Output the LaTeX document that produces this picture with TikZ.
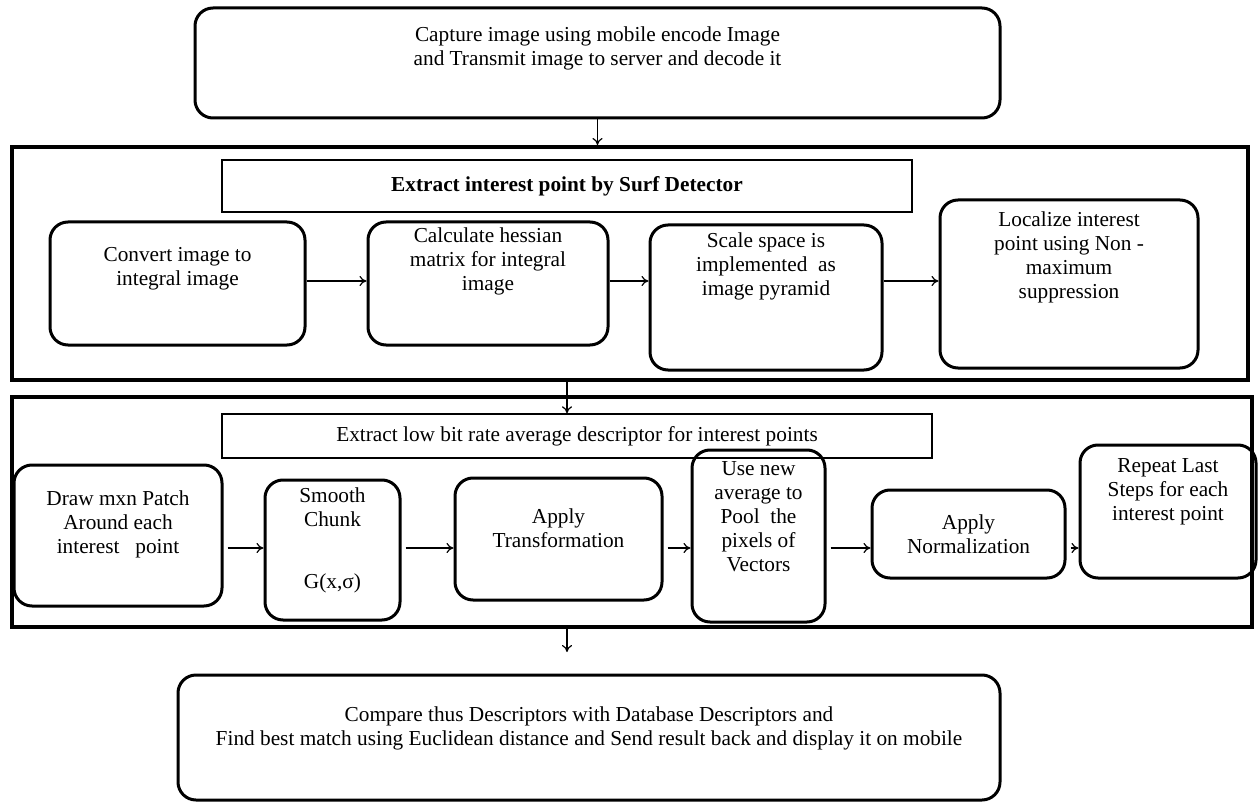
\documentclass[tikz,border=0pt]{standalone}
\usepackage{fontspec}
\setmainfont{Liberation Serif}
\usetikzlibrary{positioning, arrows.meta}
\tikzset{
    stepbox/.style={draw, rounded corners=18pt, line width=3pt, inner sep=0pt},
    headbox/.style={draw, line width=1.4pt, inner sep=0pt, font=\fontsize{21.3}{24}\selectfont},
    framebox/.style={draw, line width=4pt, inner sep=0pt},
    flow/.style={line width=1.2pt, -{To[length=7pt, width=10pt]}},
    every label/.style={align=center, inner sep=0pt, font=\fontsize{21.3}{24}\selectfont},
}
\begin{document}
\begin{tikzpicture}[x=1pt, y=-1pt]
\useasboundingbox (0,0) rectangle (1260,810);
% capture
\node[stepbox, minimum width=805, minimum height=110,
  label={[yshift=15]center:{Capture image using mobile encode Image\\and Transmit image to server and decode it}}] (cap) at (597.5,63) {};
% surf detector
\node[framebox, minimum width=1236, minimum height=233] (frame1) at (630,263.5) {};
\node[headbox, minimum width=690, minimum height=52] (head1) at (567,186) {\bfseries Extract interest point by Surf Detector};
\node[stepbox, minimum width=255, minimum height=123,
  label={[yshift=15]center:{Convert image to\\integral image}}] (conv) at (177.5,283.5) {};
\node[stepbox, minimum width=240, minimum height=123,
  label={[yshift=22]center:{Calculate hessian\\matrix for integral\\image}}] (hess) at (488,283.5) {};
\node[stepbox, minimum width=232, minimum height=145,
  label={[yshift=31]center:{Scale space is\\implemented\ \ as\\image pyramid}}] (pyram) at (766,297.5) {};
\node[stepbox, minimum width=258, minimum height=168,
  label={[yshift=27]center:{Localize interest\\point using Non -\\maximum\\suppression}}] (local) at (1069,284) {};
\coordinate (rowa) at (0,281);
\foreach \a/\b in {conv/hess, hess/pyram, pyram/local}
    \draw[flow] (\a.east |- rowa) -- (\b.west |- rowa);
% low bit rate descriptor
\node[framebox, minimum width=1240, minimum height=230] (frame2) at (632,512) {};
\node[headbox, minimum width=710, minimum height=44] (head2) at (577,436) {Extract low bit rate average descriptor for interest points};
\node[stepbox, minimum width=208, minimum height=141,
  label={[yshift=11]center:{Draw mxn Patch\\Around each\\interest\ \ \ point}}] (patch) at (118,535.5) {};
\node[stepbox, minimum width=135, minimum height=140,
  label={[yshift=10]center:{Smooth\\Chunk\\[38pt]G(x,σ)}}] (smooth) at (332.5,550) {};
\node[stepbox, minimum width=207, minimum height=122,
  label={[yshift=11]center:{Apply\\Transformation}}] (trans) at (558.5,539) {};
\node[stepbox, minimum width=133, minimum height=172,
  label={[yshift=19]center:{Use new\\average to\\Pool\ \ the\\pixels of\\Vectors}}] (pool) at (758.5,536) {};
\node[stepbox, minimum width=193, minimum height=88,
  label={center:{Apply\\Normalization}}] (norm) at (968.5,534) {};
\node[stepbox, minimum width=176, minimum height=133,
  label={[yshift=20]center:{Repeat Last\\Steps for each\\interest point}}] (rep) at (1168,511.5) {};
\coordinate (rowb) at (0,548);
\foreach \a/\b in {patch/smooth, smooth/trans, trans/pool, pool/norm, norm/rep}
    \draw[flow, shorten <=4pt] (\a.east |- rowb) -- (\b.west |- rowb);
% matching
\node[stepbox, minimum width=822, minimum height=125,
  label={[yshift=9]center:{Compare thus Descriptors with Database Descriptors and\\Find best match using Euclidean\ distance and Send result back and display it on mobile}}] (match) at (589,737.5) {};
\coordinate (down) at (567,652);
\draw[flow] (cap.south) -- (cap.south |- frame1.north);
\draw[flow] (frame1.south -| down) -- (head2.north -| down);
\draw[flow] (frame2.south -| down) -- (down);
\end{tikzpicture}
\end{document}
